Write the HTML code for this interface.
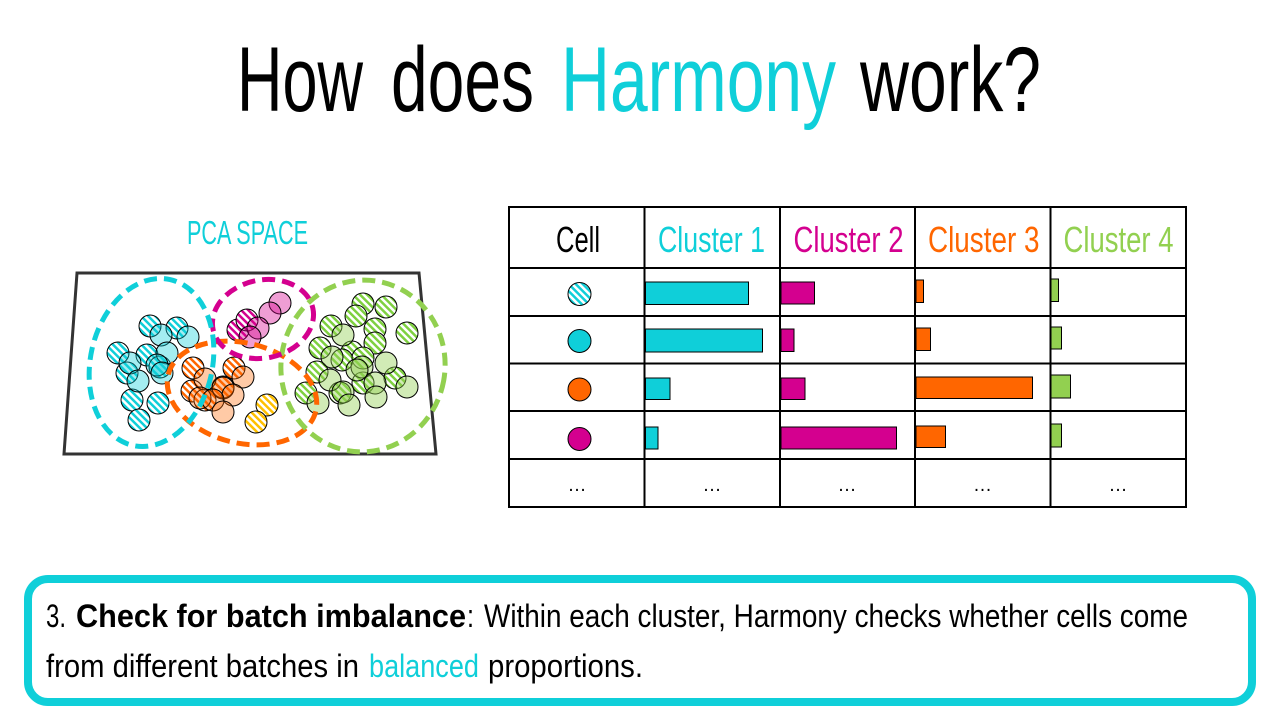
<!DOCTYPE html>
<html>
<head>
<meta charset="utf-8">
<style>
  html,body{margin:0;padding:0;background:#fff;}
  svg{display:block;}
  text{font-family:"Liberation Sans",sans-serif;}
</style>
</head>
<body>
<svg width="1280" height="720" viewBox="0 0 1280 720" xmlns="http://www.w3.org/2000/svg">
  <defs>
    <pattern id="hc" patternUnits="userSpaceOnUse" width="5" height="5" patternTransform="rotate(-45)"><rect width="5" height="5" fill="#fff"/><rect width="2.5" height="5" fill="#0FCFD9"/></pattern>
    <pattern id="hm" patternUnits="userSpaceOnUse" width="5" height="5" patternTransform="rotate(-45)"><rect width="5" height="5" fill="#fff"/><rect width="2.5" height="5" fill="#D4008F"/></pattern>
    <pattern id="ho" patternUnits="userSpaceOnUse" width="5" height="5" patternTransform="rotate(-45)"><rect width="5" height="5" fill="#fff"/><rect width="2.5" height="5" fill="#FF6600"/></pattern>
    <pattern id="hy" patternUnits="userSpaceOnUse" width="5" height="5" patternTransform="rotate(-45)"><rect width="5" height="5" fill="#fff"/><rect width="2.5" height="5" fill="#FFC000"/></pattern>
    <pattern id="hg" patternUnits="userSpaceOnUse" width="5" height="5" patternTransform="rotate(-45)"><rect width="5" height="5" fill="#fff"/><rect width="2.5" height="5" fill="#7ED040"/></pattern>
  </defs>
  <rect width="1280" height="720" fill="#fff"/>

  <!-- Title -->
  <g font-size="92" fill="#000">
    <text x="237" y="111" textLength="126" lengthAdjust="spacingAndGlyphs">How</text>
    <text x="391" y="111" textLength="143" lengthAdjust="spacingAndGlyphs">does</text>
    <text x="561" y="111" textLength="275" lengthAdjust="spacingAndGlyphs" fill="#0FCFD9">Harmony</text>
    <text x="860" y="111" textLength="181" lengthAdjust="spacingAndGlyphs">work?</text>
  </g>

  <!-- PCA SPACE label -->
  <text x="187" y="244" font-size="33" fill="#0FCFD9" textLength="121" lengthAdjust="spacingAndGlyphs">PCA SPACE</text>

  <!-- PCA plane -->
  <polygon points="77,273 419,273 436,454 64,454" fill="#fff" stroke="#333" stroke-width="3"/>

  <g stroke="#000" stroke-width="1">
    <!-- cyan hatched -->
    <g fill="url(#hc)">
      <circle cx="150" cy="326" r="11"/><circle cx="177" cy="328" r="11"/><circle cx="118" cy="353" r="11"/>
      <circle cx="147" cy="355" r="11"/><circle cx="127" cy="373" r="11"/><circle cx="160" cy="367" r="11"/>
      <circle cx="132" cy="400" r="11"/><circle cx="158" cy="403" r="11"/><circle cx="139" cy="420" r="11"/>
    </g>
    <g fill="#0FCFD9" fill-opacity="0.38">
      <circle cx="161" cy="335" r="11"/><circle cx="188" cy="337" r="11"/><circle cx="167" cy="353" r="11"/>
      <circle cx="130" cy="363" r="11"/><circle cx="157" cy="365" r="11"/><circle cx="138" cy="381" r="11"/>
      <circle cx="162" cy="373" r="11"/>
    </g>
    <!-- magenta -->
    <g fill="url(#hm)">
      <circle cx="238" cy="330" r="11"/><circle cx="247" cy="320" r="11"/>
    </g>
    <g fill="#D4008F" fill-opacity="0.38">
      <circle cx="280" cy="303" r="11"/><circle cx="270" cy="313" r="11"/><circle cx="258" cy="328" r="11"/>
      <circle cx="250" cy="337" r="11"/>
    </g>
    <!-- orange -->
    <g fill="url(#ho)">
      <circle cx="193" cy="368" r="11"/><circle cx="234" cy="368" r="11"/><circle cx="192" cy="391" r="11"/>
      <circle cx="223" cy="387" r="11"/><circle cx="205" cy="400" r="11"/>
    </g>
    <g fill="#FF6600" fill-opacity="0.35">
      <circle cx="205" cy="379" r="11"/><circle cx="243" cy="377" r="11"/><circle cx="223" cy="388" r="11"/>
      <circle cx="233" cy="395" r="11"/><circle cx="200" cy="398" r="11"/><circle cx="213" cy="400" r="11"/>
      <circle cx="223" cy="412" r="11"/>
    </g>
    <!-- yellow -->
    <g fill="url(#hy)">
      <circle cx="267" cy="405" r="11"/><circle cx="256" cy="422" r="11"/>
    </g>
    <!-- green -->
    <g fill="url(#hg)">
      <circle cx="363" cy="304" r="11"/><circle cx="386" cy="307" r="11"/><circle cx="356" cy="316" r="11"/>
      <circle cx="331" cy="326" r="11"/><circle cx="375" cy="329" r="11"/><circle cx="407" cy="333" r="11"/>
      <circle cx="320" cy="348" r="11"/><circle cx="375" cy="343" r="11"/><circle cx="352" cy="352" r="11"/>
      <circle cx="317" cy="372" r="11"/><circle cx="342" cy="360" r="11"/><circle cx="363" cy="358" r="11"/>
      <circle cx="395" cy="378" r="11"/><circle cx="363" cy="383" r="11"/><circle cx="306" cy="393" r="11"/>
      <circle cx="340" cy="393" r="11"/>
    </g>
    <g fill="#92D050" fill-opacity="0.42">
      <circle cx="343" cy="335" r="11"/><circle cx="332" cy="357" r="11"/><circle cx="362" cy="367" r="11"/>
      <circle cx="386" cy="363" r="11"/><circle cx="357" cy="370" r="11"/><circle cx="330" cy="380" r="11"/>
      <circle cx="375" cy="383" r="11"/><circle cx="407" cy="387" r="11"/><circle cx="343" cy="392" r="11"/>
      <circle cx="376" cy="397" r="11"/><circle cx="318" cy="403" r="11"/><circle cx="349" cy="405" r="11"/>
    </g>
  </g>

  <!-- dashed cluster ellipses -->
  <g fill="none" stroke-width="5" stroke-dasharray="13 7">
    <ellipse cx="242" cy="393" rx="76" ry="50" transform="rotate(14 242 393)" stroke="#FF6600"/>
    <ellipse cx="363" cy="366" rx="82" ry="86" transform="rotate(10 363 366)" stroke="#92D050"/>
    <ellipse cx="263" cy="319" rx="51" ry="39" transform="rotate(-12 263 319)" stroke="#D4008F"/>
    <ellipse cx="151.5" cy="362.5" rx="61" ry="85" transform="rotate(12.6 151.5 362.5)" stroke="#0FCFD9"/>
  </g>

  <!-- Table -->
  <g stroke="#000" stroke-width="2" fill="none">
    <rect x="509" y="207" width="677" height="300"/>
    <line x1="644.5" y1="207" x2="644.5" y2="507"/>
    <line x1="780" y1="207" x2="780" y2="507"/>
    <line x1="915" y1="207" x2="915" y2="507"/>
    <line x1="1050.5" y1="207" x2="1050.5" y2="507"/>
    <line x1="509" y1="268" x2="1186" y2="268"/>
    <line x1="509" y1="316" x2="1186" y2="316"/>
    <line x1="509" y1="363.5" x2="1186" y2="363.5"/>
    <line x1="509" y1="411" x2="1186" y2="411"/>
    <line x1="509" y1="459" x2="1186" y2="459"/>
  </g>

  <g font-size="36">
    <text x="556" y="252" textLength="44" lengthAdjust="spacingAndGlyphs" fill="#000">Cell</text>
    <text x="658" y="252" textLength="107" lengthAdjust="spacingAndGlyphs" fill="#0FCFD9">Cluster 1</text>
    <text x="793.5" y="252" textLength="110" lengthAdjust="spacingAndGlyphs" fill="#D4008F">Cluster 2</text>
    <text x="928" y="252" textLength="111.5" lengthAdjust="spacingAndGlyphs" fill="#FF6600">Cluster 3</text>
    <text x="1063.5" y="252" textLength="110" lengthAdjust="spacingAndGlyphs" fill="#92D050">Cluster 4</text>
  </g>

  <!-- icons -->
  <g stroke="#000" stroke-width="1">
    <circle cx="579.5" cy="294" r="11.5" fill="url(#hc)"/>
    <circle cx="579.5" cy="341" r="11.5" fill="#0FCFD9"/>
    <circle cx="579.5" cy="389.5" r="11.5" fill="#FF6600"/>
    <circle cx="579.5" cy="439" r="11.5" fill="#D4008F"/>
  </g>

  <!-- bars -->
  <g stroke="#000" stroke-width="1">
    <rect x="645.5" y="282" width="103" height="22.5" fill="#0FCFD9"/>
    <rect x="781" y="282" width="33.5" height="22" fill="#D4008F"/>
    <rect x="916" y="280" width="7.5" height="22.5" fill="#FF6600"/>
    <rect x="1051" y="279" width="7.5" height="22.5" fill="#92D050"/>

    <rect x="645.5" y="329" width="117" height="23" fill="#0FCFD9"/>
    <rect x="781" y="329" width="13" height="22.5" fill="#D4008F"/>
    <rect x="916" y="328" width="14.5" height="22.5" fill="#FF6600"/>
    <rect x="1051" y="327" width="10.5" height="22" fill="#92D050"/>

    <rect x="645.5" y="378" width="24.5" height="21.5" fill="#0FCFD9"/>
    <rect x="781" y="378" width="24" height="21.5" fill="#D4008F"/>
    <rect x="916" y="377" width="116.5" height="21.5" fill="#FF6600"/>
    <rect x="1051" y="375" width="19.5" height="23" fill="#92D050"/>

    <rect x="645.5" y="427" width="12.5" height="22" fill="#0FCFD9"/>
    <rect x="781" y="427" width="115.5" height="22" fill="#D4008F"/>
    <rect x="916" y="426" width="29.5" height="21.5" fill="#FF6600"/>
    <rect x="1051" y="424" width="10.5" height="23" fill="#92D050"/>
  </g>

  <g font-size="19" fill="#000" text-anchor="middle">
    <text x="577" y="491">…</text>
    <text x="712" y="491">…</text>
    <text x="847" y="491">…</text>
    <text x="982.5" y="491">…</text>
    <text x="1118" y="491">…</text>
  </g>

  <!-- Bottom box -->
  <rect x="28" y="579" width="1224" height="123" rx="20" ry="20" fill="#fff" stroke="#0FCFD9" stroke-width="8"/>
  <g font-size="32" fill="#000">
    <text x="46" y="627" textLength="20" lengthAdjust="spacingAndGlyphs">3.</text>
    <text x="76" y="627" font-weight="bold" textLength="390" lengthAdjust="spacingAndGlyphs">Check for batch imbalance</text>
    <text x="467" y="627" textLength="7" lengthAdjust="spacingAndGlyphs">:</text>
    <text x="484" y="627" textLength="704" lengthAdjust="spacingAndGlyphs">Within each cluster, Harmony checks whether cells come</text>
    <text x="46" y="677" textLength="313" lengthAdjust="spacingAndGlyphs">from different batches in</text>
    <text x="369" y="677" textLength="110" lengthAdjust="spacingAndGlyphs" fill="#0FCFD9">balanced</text>
    <text x="488" y="677" textLength="155" lengthAdjust="spacingAndGlyphs">proportions.</text>
  </g>
</svg>
</body>
</html>
